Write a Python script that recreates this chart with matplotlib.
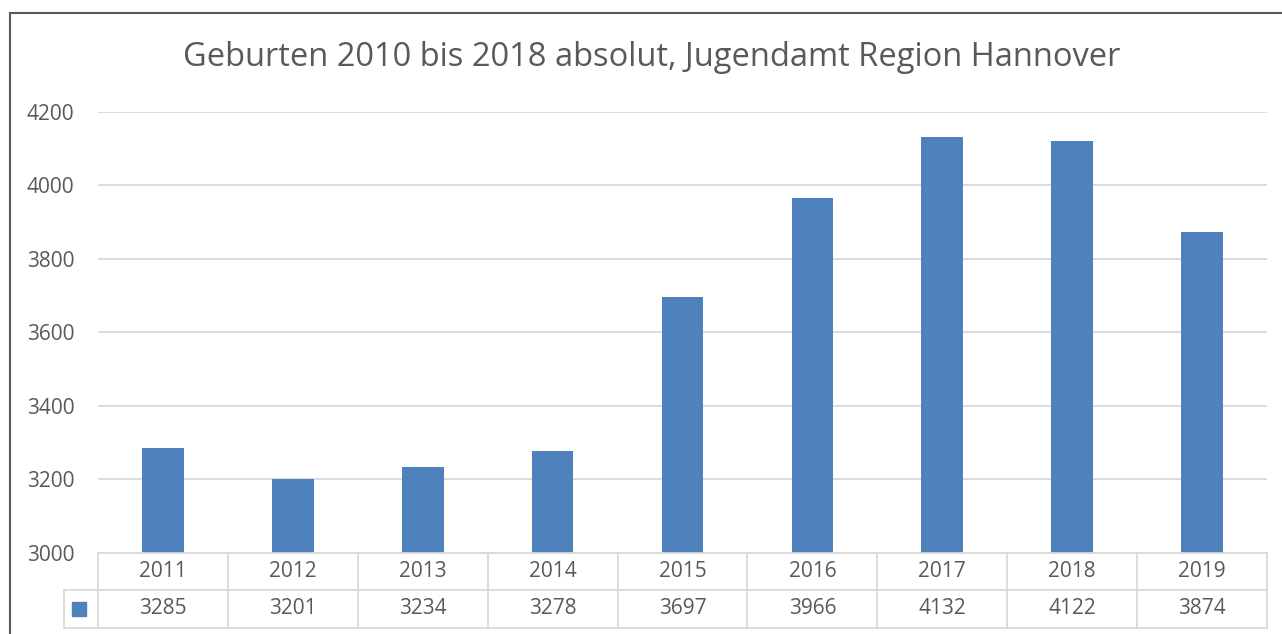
import matplotlib
matplotlib.use("Agg")
import matplotlib.pyplot as plt
from matplotlib.lines import Line2D
from matplotlib.patches import Rectangle

years = ["2011", "2012", "2013", "2014", "2015", "2016", "2017", "2018", "2019"]
births = [3285, 3201, 3234, 3278, 3697, 3966, 4132, 4122, 3874]
title = "Geburten 2010 bis 2018 absolut, Jugendamt Region Hannover"
yticks = [3000, 3200, 3400, 3600, 3800, 4000, 4200]

plt.rcParams['font.family'] = ['Open Sans', 'DejaVu Sans']
W, H = 1282, 634
fig = plt.figure(figsize=(W / 100, H / 100), dpi=100)
txt = "#595959"
grid = "#d9d9d9"
bar_c = "#4f81bd"
fs = 15

x0, x1 = 98, 1267
ytop, ybot = 112, 553
ax = fig.add_axes([x0 / W, 1 - ybot / H, (x1 - x0) / W, (ybot - ytop) / H])
n = len(years)
xs = list(range(n))
ax.bar(xs, births, width=0.32, color=bar_c, zorder=3)
ax.set_xlim(-0.5, n - 0.5)
ax.set_ylim(3000, 4200)
ax.set_yticks(yticks)
ax.set_yticklabels([str(v) for v in yticks], color=txt, fontsize=fs)
ax.tick_params(axis='y', length=0, pad=17)
ax.set_xticks([])
for s in ax.spines.values():
    s.set_visible(False)
for v in yticks[1:]:
    ax.axhline(v, color=grid, lw=1.3, zorder=1)

fig.text(652 / W, 1 - 58 / H, title, ha='center', va='center',
         fontsize=23.5, color=txt)

# data table (pixel coordinates)
def px(x, y):
    return x / W, 1 - y / H

r0, r1, r2 = 553, 590, 628
colw = (x1 - x0) / n
lw = 1.3
def hline(xa, xb, y):
    fig.add_artist(Line2D([xa / W, xb / W], [1 - y / H, 1 - y / H], color=grid, lw=lw))
def vline(x, ya, yb):
    fig.add_artist(Line2D([x / W, x / W], [1 - ya / H, 1 - yb / H], color=grid, lw=lw))

hline(x0, x1, r0)
hline(64, x1, r1)
hline(64, x1, r2)
vline(64, r1, r2)
for i in range(n + 1):
    vline(x0 + i * colw, r0, r2)
for i in range(n):
    cx = x0 + (i + 0.5) * colw
    fig.text(*px(cx, (r0 + r1) / 2), years[i], ha='center', va='center', fontsize=fs, color=txt)
    fig.text(*px(cx, (r1 + r2) / 2), str(births[i]), ha='center', va='center', fontsize=fs, color=txt)
sq = 14
fig.add_artist(Rectangle(px(72, 616), sq / W, sq / H, color=bar_c))

# outer border
border = "#595959"
fig.add_artist(Line2D([10 / W, 10 / W], [1 - 13 / H, 0], color=border, lw=1.5))
fig.add_artist(Line2D([10 / W, 1], [1 - 13 / H, 1 - 13 / H], color=border, lw=1.5))

fig.savefig("out.png", dpi=100)
